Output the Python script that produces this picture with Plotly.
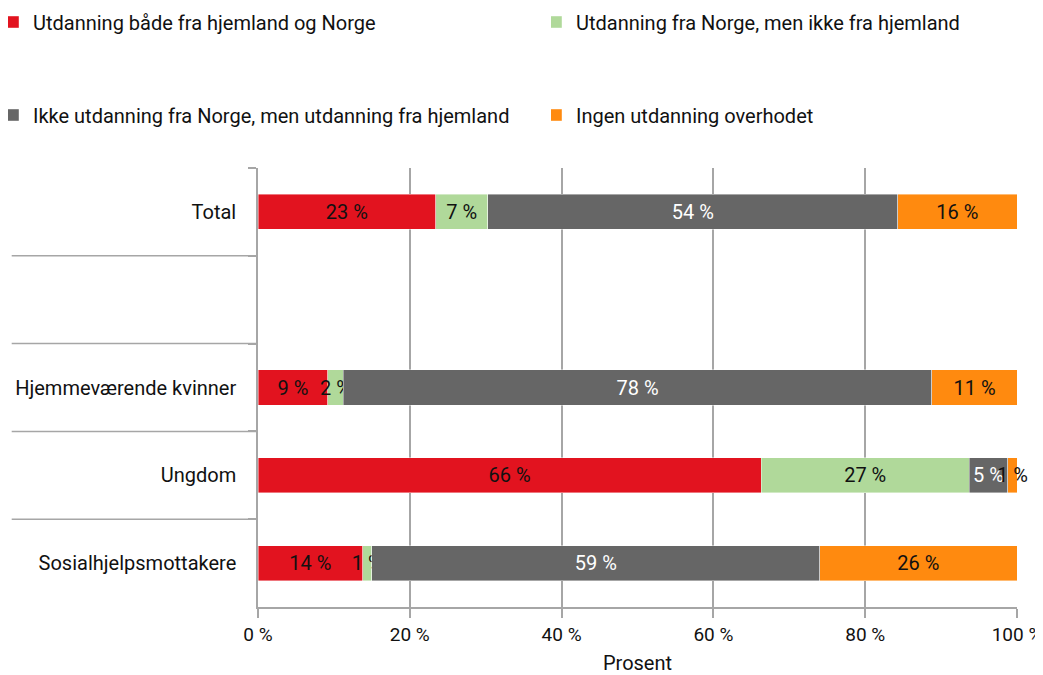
import plotly.graph_objects as go

categories = ["Total", " ", "Hjemmeværende kvinner", "Ungdom", "Sosialhjelpsmottakere"]
series_names = [
    "Utdanning både fra hjemland og Norge",
    "Utdanning fra Norge, men ikke fra hjemland",
    "Ikke utdanning fra Norge, men utdanning fra hjemland",
    "Ingen utdanning overhodet",
]
both = [23.4, None, 9.2, 66.3, 13.8]
norway_only = [6.9, None, 2.0, 27.4, 1.2]
homeland_only = [54.0, None, 77.6, 5.1, 59.0]
none_at_all = [15.7, None, 11.2, 1.2, 26.0]
x_ticks = [0, 20, 40, 60, 80, 100]
x_tick_labels = ["0 %", "20 %", "40 %", "60 %", "80 %", "100 %"]
x_title = "Prosent"

colors = ["#E2131F", "#B0D99A", "#666666", "#FF8A0F"]
text_colors = ["#111111", "#111111", "#FFFFFF", "#111111"]
legend_ids = ["legend", "legend2", "legend3", "legend4"]

FONT = "Roboto"
FS = 20
# the page body has an 8px margin, so the figure is sized to fit the 1043x675 window
W, H = 1035, 667

fig = go.Figure()
for name, vals, col, tcol, lg in zip(series_names, [both, norway_only, homeland_only, none_at_all],
                                     colors, text_colors, legend_ids):
    fig.add_trace(go.Bar(
        y=categories, x=vals, name=name, orientation="h",
        marker=dict(color=col, line=dict(width=0.6, color="rgba(255,255,255,0.7)")),
        text=[("" if v is None else f"{round(v)} %") for v in vals],
        textposition="inside", insidetextanchor="middle", textangle=0,
        textfont=dict(family=FONT, size=FS, color=tcol),
        constraintext="none", cliponaxis=False,
        legend=lg, showlegend=True, hoverinfo="skip",
    ))

# separator lines between categories extending into the label area
for b in [0.5, 1.5, 2.5, 3.5]:
    fig.add_shape(type="line", xref="paper", yref="y", x0=-0.3245, x1=0, y0=b, y1=b,
                  line=dict(color="#A6A6A6", width=1.5), layer="below")

legend_common = dict(orientation="h", xanchor="left", yanchor="middle",
                     xref="container", yref="container",
                     font=dict(family=FONT, size=FS, color="#111111"),
                     itemwidth=30, indentation=-15, bgcolor="rgba(0,0,0,0)")
leg_pos = [(0, 14), (543, 14), (0, 107), (543, 107)]
legends = {}
for lg, (px, py) in zip(legend_ids, leg_pos):
    legends[lg] = dict(x=px / W, y=1 - py / H, **legend_common)

fig.update_layout(
    width=W, height=H,
    margin=dict(l=250, r=26, t=160, b=68),
    paper_bgcolor="white", plot_bgcolor="white",
    showlegend=True,
    barmode="stack", bargap=0.6,
    font=dict(family=FONT, size=FS, color="#111111"),
    uniformtext=dict(minsize=FS, mode="show"),
    xaxis=dict(range=[0, 100], tickvals=x_ticks, ticktext=x_tick_labels,
               showgrid=True, gridcolor="#A6A6A6", gridwidth=1.5,
               showline=True, linecolor="#A6A6A6", linewidth=1.5,
               ticks="outside", ticklen=9, tickcolor="#A6A6A6", tickwidth=1.5,
               tickfont=dict(family=FONT, size=19, color="#111111"),
               ticklabeloverflow="allow",
               title=dict(text=x_title, standoff=19, font=dict(family=FONT, size=FS, color="#111111")),
               zeroline=False, fixedrange=True, automargin=False),
    yaxis=dict(categoryorder="array", categoryarray=categories, autorange="reversed",
               showline=True, linecolor="#A6A6A6", linewidth=1.5,
               ticks="outside", ticklen=8, tickcolor="#A6A6A6", tickwidth=1.5,
               tickson="boundaries", showgrid=False,
               tickfont=dict(family=FONT, size=FS, color="#111111"),
               ticklabelstandoff=16, fixedrange=True, automargin=False),
    **legends,
)

fig.write_html("out.html")
